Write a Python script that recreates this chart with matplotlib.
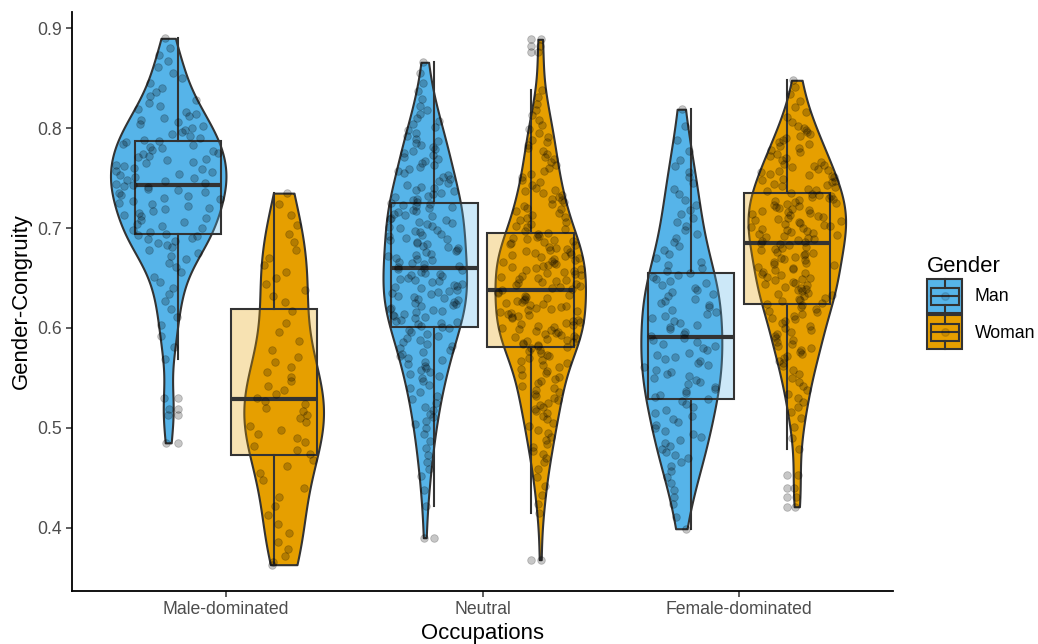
import numpy as np
import matplotlib.pyplot as plt
from matplotlib.patches import Rectangle
from matplotlib.lines import Line2D
from matplotlib.legend_handler import HandlerBase
from matplotlib.colors import to_rgba

plt.rcParams['font.family'] = ['Liberation Sans', 'DejaVu Sans']

occupations = ["Male-dominated", "Neutral", "Female-dominated"]
genders = ["Man", "Woman"]
gender_colors = ["#56B4E9", "#E69F00"]

# gender-congruity scores, one list per occupation x gender
man_male_dom = [
    0.485, 0.513, 0.519, 0.530,
    0.569, 0.581, 0.592, 0.603, 0.611, 0.619, 0.627, 0.634, 0.640, 0.646,
    0.651, 0.656, 0.661, 0.665, 0.669, 0.672, 0.675, 0.678, 0.681, 0.683,
    0.685, 0.687, 0.689, 0.690, 0.692, 0.693,
    0.694, 0.696, 0.698, 0.700, 0.702, 0.704, 0.706, 0.708, 0.710, 0.712,
    0.713, 0.715, 0.717, 0.719, 0.720, 0.722, 0.724, 0.725, 0.727, 0.729,
    0.730, 0.732, 0.733, 0.735, 0.736, 0.738, 0.739, 0.741, 0.742, 0.743,
    0.744, 0.745, 0.747, 0.748, 0.750, 0.751, 0.753, 0.754, 0.756, 0.757,
    0.759, 0.760, 0.762, 0.763, 0.765, 0.766, 0.768, 0.769, 0.771, 0.772,
    0.774, 0.775, 0.777, 0.778, 0.780, 0.781, 0.783, 0.784, 0.786, 0.787,
    0.788, 0.790, 0.792, 0.794, 0.796, 0.798, 0.800, 0.802, 0.804, 0.806,
    0.808, 0.810, 0.812, 0.814, 0.816, 0.819, 0.822, 0.825, 0.828, 0.832,
    0.836, 0.840, 0.845, 0.850, 0.855, 0.861, 0.867, 0.873, 0.880, 0.890]

woman_male_dom = [
    0.363, 0.366, 0.372, 0.379, 0.386, 0.395, 0.404, 0.413, 0.422, 0.431,
    0.440, 0.448, 0.455, 0.462, 0.468, 0.474, 0.478, 0.482, 0.486, 0.490,
    0.494, 0.498, 0.502, 0.506, 0.510, 0.513, 0.517, 0.520, 0.524, 0.527,
    0.530, 0.534, 0.538, 0.542, 0.547, 0.551, 0.556, 0.561, 0.566, 0.571,
    0.578, 0.587, 0.596, 0.605, 0.617, 0.626, 0.632, 0.638, 0.644, 0.650,
    0.656, 0.663, 0.670, 0.678, 0.686, 0.694, 0.703, 0.713, 0.724, 0.735]

man_neutral = [
    0.390, 0.422, 0.438,
    0.452, 0.459, 0.466, 0.473, 0.480, 0.487, 0.494,
    0.500, 0.504, 0.507, 0.511, 0.514, 0.518, 0.521, 0.525, 0.529, 0.532,
    0.536, 0.540, 0.543, 0.547,
    0.550, 0.552, 0.554, 0.556, 0.558, 0.560, 0.562, 0.564, 0.566, 0.568,
    0.570, 0.572, 0.574, 0.576, 0.578, 0.580, 0.582, 0.584, 0.586, 0.588,
    0.590, 0.592, 0.594, 0.596, 0.598, 0.600,
    0.601, 0.602, 0.604, 0.605, 0.606, 0.607, 0.608, 0.610, 0.611, 0.612,
    0.613, 0.614, 0.616, 0.617, 0.618, 0.619, 0.620, 0.622, 0.623, 0.624,
    0.625, 0.626, 0.628, 0.629, 0.630, 0.631, 0.632, 0.634, 0.635, 0.636,
    0.637, 0.638, 0.640, 0.641, 0.642, 0.643, 0.644, 0.646, 0.647, 0.648,
    0.649, 0.650, 0.652, 0.653, 0.654, 0.655, 0.656, 0.658, 0.659, 0.660,
    0.661, 0.662, 0.664, 0.665, 0.666, 0.668, 0.669, 0.670, 0.672, 0.673,
    0.674, 0.676, 0.677, 0.678, 0.680, 0.681, 0.682, 0.684, 0.685, 0.686,
    0.688, 0.689, 0.690, 0.692, 0.693, 0.694, 0.696, 0.697, 0.698, 0.700,
    0.701, 0.702, 0.704, 0.705, 0.706, 0.708, 0.709, 0.710, 0.712, 0.713,
    0.714, 0.716, 0.717, 0.718, 0.720, 0.721, 0.722, 0.723, 0.724, 0.725,
    0.726, 0.728, 0.729, 0.731, 0.732, 0.734, 0.735, 0.737, 0.738, 0.740,
    0.741, 0.743, 0.745,
    0.747, 0.749, 0.751, 0.753, 0.755, 0.757, 0.759, 0.761, 0.763, 0.765,
    0.767, 0.769, 0.771, 0.773, 0.775, 0.777, 0.779, 0.781, 0.783, 0.785,
    0.787, 0.789,
    0.792, 0.795, 0.798, 0.801, 0.804, 0.807, 0.810, 0.814, 0.818, 0.822,
    0.829, 0.837, 0.845, 0.855, 0.866]

woman_neutral = [
    0.368,
    0.415, 0.424, 0.433, 0.442, 0.451, 0.459,
    0.466, 0.470, 0.474, 0.477, 0.481, 0.484, 0.488, 0.491, 0.495, 0.498,
    0.502, 0.505, 0.509, 0.512,
    0.515, 0.517, 0.519, 0.521, 0.523, 0.525, 0.528, 0.530, 0.532, 0.534,
    0.536, 0.538, 0.540, 0.542, 0.545, 0.547, 0.549, 0.551, 0.553, 0.555,
    0.557, 0.559, 0.561, 0.563,
    0.565, 0.567, 0.568, 0.570, 0.572, 0.573, 0.575, 0.577, 0.578, 0.580,
    0.581, 0.582, 0.583, 0.584, 0.585, 0.586, 0.587, 0.588, 0.589, 0.590,
    0.591, 0.592, 0.593, 0.594, 0.595, 0.596, 0.597, 0.598, 0.599, 0.600,
    0.601, 0.602, 0.603, 0.604, 0.605, 0.606, 0.607, 0.608, 0.610, 0.611,
    0.612, 0.613, 0.614, 0.615, 0.616, 0.617, 0.618, 0.619, 0.620, 0.621,
    0.622, 0.623, 0.624, 0.625, 0.626, 0.627, 0.628, 0.629, 0.630, 0.631,
    0.632, 0.633, 0.635, 0.636, 0.638,
    0.639, 0.640, 0.641, 0.642, 0.643, 0.644, 0.645, 0.646, 0.647, 0.648,
    0.649, 0.650, 0.651, 0.652, 0.653, 0.654, 0.655, 0.656, 0.657, 0.658,
    0.659, 0.660, 0.661, 0.662, 0.663, 0.664, 0.665, 0.666, 0.667, 0.668,
    0.669, 0.670, 0.671, 0.672, 0.673, 0.674, 0.675, 0.676, 0.677, 0.678,
    0.679, 0.680, 0.681, 0.683, 0.684, 0.685, 0.686, 0.687, 0.688, 0.689,
    0.690, 0.691, 0.692, 0.694, 0.695,
    0.697, 0.699, 0.701, 0.702, 0.704, 0.706, 0.708, 0.710, 0.711, 0.713,
    0.715, 0.717, 0.719, 0.720, 0.722, 0.724, 0.726, 0.728, 0.729, 0.731,
    0.733, 0.735, 0.737, 0.738,
    0.740, 0.743, 0.746, 0.748, 0.751, 0.754, 0.757, 0.760, 0.763, 0.766,
    0.769, 0.771, 0.774, 0.777, 0.780, 0.783, 0.786, 0.788,
    0.791, 0.795, 0.799, 0.803, 0.808, 0.813, 0.818, 0.824, 0.831, 0.838,
    0.876, 0.882, 0.889]

man_female_dom = [
    0.399, 0.411,
    0.424, 0.431, 0.438, 0.445, 0.451, 0.457, 0.462,
    0.466, 0.470, 0.473, 0.476, 0.479, 0.482, 0.485, 0.488, 0.491, 0.494,
    0.497, 0.500, 0.503, 0.506, 0.509, 0.512,
    0.515, 0.518, 0.521, 0.524, 0.527,
    0.529, 0.531, 0.533, 0.535, 0.537, 0.539, 0.541, 0.544, 0.546, 0.548,
    0.550, 0.552, 0.554, 0.556, 0.558, 0.561, 0.563, 0.565, 0.567, 0.569,
    0.571, 0.573, 0.575, 0.578, 0.580, 0.582, 0.584, 0.586, 0.588, 0.590,
    0.592, 0.594, 0.596, 0.599, 0.601, 0.603, 0.605, 0.607, 0.610, 0.612,
    0.614, 0.616, 0.618, 0.621, 0.623, 0.625, 0.627, 0.629, 0.632, 0.634,
    0.636, 0.638, 0.640, 0.643, 0.645, 0.647, 0.649, 0.651, 0.653, 0.655,
    0.657, 0.660, 0.663, 0.666,
    0.670, 0.674, 0.678, 0.682, 0.686, 0.690, 0.694, 0.698, 0.702, 0.706,
    0.710, 0.714, 0.718,
    0.723, 0.728, 0.734, 0.739, 0.745, 0.751, 0.756, 0.762, 0.768,
    0.777, 0.788, 0.802, 0.819]

woman_female_dom = [
    0.421, 0.431, 0.440, 0.453,
    0.479, 0.490, 0.501, 0.510,
    0.516, 0.521, 0.526, 0.530, 0.534, 0.538, 0.542, 0.546, 0.550, 0.554,
    0.558, 0.562,
    0.565, 0.567, 0.570, 0.572, 0.574, 0.576, 0.578, 0.580, 0.582, 0.584,
    0.586, 0.588, 0.590, 0.592, 0.594, 0.596, 0.598, 0.600, 0.602, 0.605,
    0.607, 0.609, 0.610, 0.612, 0.614, 0.616, 0.617, 0.619, 0.621, 0.623,
    0.624, 0.625, 0.627, 0.628, 0.629, 0.630, 0.632, 0.633, 0.634, 0.635,
    0.637, 0.638, 0.639, 0.640, 0.641, 0.643, 0.644, 0.645, 0.646, 0.648,
    0.649, 0.650, 0.651, 0.653, 0.654, 0.655, 0.656, 0.658, 0.659, 0.660,
    0.661, 0.663, 0.664, 0.665, 0.666, 0.668, 0.669, 0.670, 0.671, 0.673,
    0.674, 0.675, 0.676, 0.678, 0.679, 0.680, 0.681, 0.683, 0.684, 0.685,
    0.686, 0.687, 0.688, 0.689, 0.690, 0.691, 0.692, 0.693, 0.694, 0.695,
    0.696, 0.697, 0.698, 0.699, 0.700, 0.701, 0.702, 0.703, 0.704, 0.705,
    0.706, 0.707, 0.708, 0.709, 0.710, 0.711, 0.712, 0.713, 0.714, 0.715,
    0.716, 0.717, 0.718, 0.719, 0.720, 0.721, 0.722, 0.723, 0.724, 0.725,
    0.726, 0.727, 0.728, 0.729, 0.730, 0.731, 0.732, 0.733, 0.734, 0.735,
    0.737, 0.738, 0.739, 0.741, 0.742, 0.743, 0.744, 0.746, 0.747, 0.748,
    0.749, 0.751, 0.752, 0.753, 0.754, 0.756, 0.757, 0.758, 0.759, 0.761,
    0.762, 0.763, 0.764, 0.766, 0.768,
    0.770, 0.772, 0.774, 0.776, 0.778, 0.780, 0.782, 0.784, 0.786, 0.788,
    0.790, 0.792, 0.794, 0.796, 0.798, 0.800, 0.802,
    0.806, 0.811, 0.816, 0.821, 0.827, 0.834,
    0.841, 0.848]

scores = [[man_male_dom, woman_male_dom],
          [man_neutral, woman_neutral],
          [man_female_dom, woman_female_dom]]

LINE = "#333333"
VIOLIN_DODGE = 0.225
BOX_DODGE = 0.1875
BOX_WIDTH = 0.3375


def kde_nrd0(vals, grid):
    # gaussian kde with R's default bandwidth (bw.nrd0)
    n = len(vals)
    q75, q25 = np.percentile(vals, [75, 25])
    bw = 0.9 * min(vals.std(ddof=1), (q75 - q25) / 1.34) * n ** -0.2
    z = (grid[:, None] - vals[None, :]) / bw
    return np.exp(-0.5 * z ** 2).sum(axis=1) / (n * bw * np.sqrt(2 * np.pi))


# densities on a trimmed grid, scaled by area (common max across violins)
dens = {}
for i in range(len(occupations)):
    for j in range(len(genders)):
        v = np.asarray(scores[i][j])
        grid = np.linspace(v.min(), v.max(), 512)
        dens[i, j] = (grid, kde_nrd0(v, grid))
dmax = max(d.max() for _, d in dens.values())

fig = plt.figure(figsize=(10.38, 6.44), dpi=100)
ax = fig.add_axes([72 / 1038, 1 - 591 / 644, (893 - 72) / 1038, (591 - 12) / 644])

rng = np.random.default_rng(11)  # horizontal sina jitter only

for i in range(len(occupations)):
    for j, color in enumerate(gender_colors):
        vals = np.asarray(scores[i][j])
        side = -1 if j == 0 else 1
        vx = i + 1 + side * VIOLIN_DODGE
        bx = i + 1 + side * BOX_DODGE
        grid, d = dens[i, j]
        hw = d / dmax * VIOLIN_DODGE

        ax.fill_betweenx(grid, vx - hw, vx + hw, facecolor=color,
                         edgecolor=LINE, linewidth=1.5, zorder=1)

        ax.boxplot(vals, positions=[bx], widths=BOX_WIDTH, patch_artist=True,
                   showcaps=False, whis=1.5, manage_ticks=False, zorder=2,
                   boxprops=dict(facecolor=to_rgba(color, 0.3), edgecolor=LINE, linewidth=1.5),
                   whiskerprops=dict(color=LINE, linewidth=1.5),
                   medianprops=dict(color=LINE, linewidth=3),
                   flierprops=dict(marker='o', markersize=5.5,
                                   markerfacecolor=(0, 0, 0, 0.22),
                                   markeredgecolor=(0, 0, 0, 0.22),
                                   markeredgewidth=0.6))

        px = vx + rng.uniform(-0.95, 0.95, len(vals)) * np.interp(vals, grid, hw)
        ax.scatter(px, vals, s=30, facecolor=(0, 0, 0, 0.22),
                   edgecolor=(0, 0, 0, 0.22), linewidths=0.6, zorder=3)

allv = np.concatenate([np.asarray(s) for row in scores for s in row])
pad = 0.05 * (allv.max() - allv.min())
ax.set_ylim(allv.min() - pad, allv.max() + pad)
ax.set_xlim(0.4, 3.6)
ax.set_xticks([1, 2, 3])
ax.set_xticklabels(occupations)
ax.set_yticks([0.4, 0.5, 0.6, 0.7, 0.8, 0.9])
ax.set_yticklabels(["0.4", "0.5", "0.6", "0.7", "0.8", "0.9"])

for s in ["top", "right"]:
    ax.spines[s].set_visible(False)
for s in ["left", "bottom"]:
    ax.spines[s].set_color("black")
    ax.spines[s].set_linewidth(1.3)
ax.tick_params(axis="both", length=4, width=1.1, color=LINE,
               labelsize=12.7, labelcolor="#4D4D4D", pad=3)
ax.set_xlabel("Occupations", fontsize=15.9, labelpad=4)
ax.set_ylabel("Gender-Congruity", fontsize=15.9, labelpad=4)


class ViolinBoxKey(HandlerBase):
    def create_artists(self, legend, orig_handle, xdescent, ydescent,
                       width, height, fontsize, trans):
        col = orig_handle.get_facecolor()
        x0, y0 = -xdescent, -ydescent
        cx = x0 + width / 2
        arts = [
            Rectangle((x0, y0), width, height, facecolor=col,
                      edgecolor=LINE, linewidth=1.5),
            Line2D([cx, cx], [y0, y0 + 0.25 * height], color=LINE, linewidth=1.5),
            Line2D([cx, cx], [y0 + 0.75 * height, y0 + height], color=LINE, linewidth=1.5),
            Rectangle((x0 + 0.1 * width, y0 + 0.25 * height), 0.8 * width, 0.5 * height,
                      facecolor="none", edgecolor=LINE, linewidth=1.5),
            Line2D([x0 + 0.1 * width, x0 + 0.9 * width], [y0 + height / 2] * 2,
                   color=LINE, linewidth=1.5),
            Line2D([cx], [y0 + height / 2], marker="o", markersize=5.5, linestyle="none",
                   markerfacecolor=(0, 0, 0, 0.12), markeredgecolor=(0, 0, 0, 0.12)),
        ]
        for a in arts:
            a.set_transform(trans)
        return arts


handles = [Rectangle((0, 0), 1, 1, facecolor=c) for c in gender_colors]
fig.legend(handles, genders, handler_map={Rectangle: ViolinBoxKey()},
           loc="upper left", bbox_to_anchor=(927 / 1038, 1 - 256 / 644),
           frameon=False, title="Gender", alignment="left",
           fontsize=12.7, title_fontsize=15.9,
           handlelength=2.0, handleheight=2.59, labelspacing=0.12,
           handletextpad=0.7, borderpad=0, borderaxespad=0)

fig.savefig("out.png", dpi=100)
